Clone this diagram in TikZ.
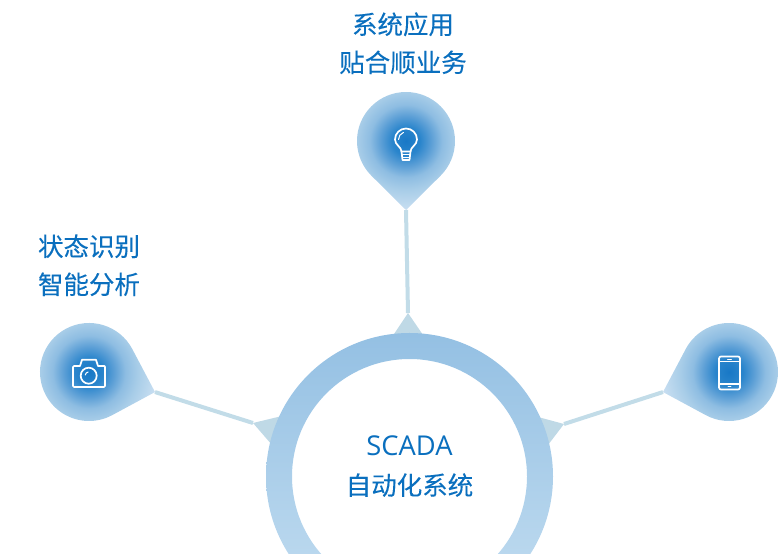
\documentclass[tikz,border=0pt]{standalone}
\usepackage{fontspec}
\setmainfont{Open Sans}
\newfontfamily\cjk[FakeBold=0.12]{Noto Sans CJK SC}
\usepackage{xcolor}
\usepackage{tikz}
\usetikzlibrary{calc, positioning}
\definecolor{labelblue}{HTML}{0A6FBE}
\definecolor{linkblue}{HTML}{C2DCE8}
\definecolor{hornblue}{HTML}{BFD9E6}
\definecolor{hubtop}{HTML}{94C0E3}
\definecolor{hubbottom}{HTML}{C4DEF1}
\definecolor{glowa}{HTML}{1878C6}
\definecolor{glowb}{HTML}{2A85CC}
\definecolor{glowc}{HTML}{5C9FD6}
\definecolor{glowf}{HTML}{8EBDE2}
\definecolor{glowd}{HTML}{A8CDE8}
\definecolor{glowe}{HTML}{CBE0F2}
\pgfdeclareradialshading{pinglow}{\pgfpoint{0bp}{0bp}}{%
  color(0bp)=(glowa);
  color(5bp)=(glowb);
  color(9bp)=(glowc);
  color(13bp)=(glowf);
  color(17.5bp)=(glowd);
  color(25bp)=(glowe);
  color(50bp)=(glowe)}
\tikzset{
  label text/.style={text=labelblue, align=center, font=\cjk\fontsize{25.5}{38}\selectfont},
  link line/.style={draw=linkblue, line width=4pt},
  horn/.style={fill=hornblue},
  icon line/.style={draw=white, line width=1.7pt, line join=round, line cap=round}
}

\begin{document}
\begin{tikzpicture}[x=1pt, y=1pt]
      \useasboundingbox (0,0) rectangle (779,554);
      \clip (0,0) rectangle (779,554);

      %pins
      \foreach \name/\cx/\cy/\dir in {Top/406/413/-90, Left/89/182/-16.9, Right/729/182/196.9}{
        \coordinate (pin\name) at (\cx,\cy);
        \coordinate (tip\name) at ($(pin\name)+(\dir:69pt)$);
        \begin{scope}
          \clip (tip\name) -- ($(pin\name)+(\dir+44.8:49pt)$)
            arc[start angle=\dir+44.8, end angle=\dir+315.2, radius=49pt] -- cycle;
          \shade[shading=pinglow] (pin\name) circle (70pt);
        \end{scope}
      }

      %hub
      \coordinate (hub) at (409.5,77.5);
      \coordinate (hornTop) at (408,241);
      \coordinate (hornLeft) at (253,131);
      \coordinate (hornRight) at (564,130);
      \fill[horn] (hornTop) -- (392,217) -- (424.4,217) -- cycle;
      \fill[horn] (hornLeft) -- (282,138) -- (272,109) -- cycle;
      \fill[horn] (hornRight) -- (538,137) -- (548,109) -- cycle;
      \shade[top color=hubtop, bottom color=hubbottom, even odd rule]
        (hub) circle (143.5pt) (hub) circle (117.5pt);

      % edges %
      \draw[link line] (tipTop) -- (hornTop);
      \draw[link line] (tipLeft) -- (hornLeft);
      \draw[link line] (tipRight) -- (hornRight);

      %labels
      \node[label text] (labelTop) at (403,510.7) {系统应用\\贴合顺业务};
      \node[label text] (labelLeft) at (89,288.7) {状态识别\\智能分析};
      \node[label text] (labelHub) at (409.5,87.5) {{\rmfamily\fontsize{27.3}{39}\selectfont SCADA}\\[1pt]自动化系统};

      %bulb
      \draw[icon line] (401.5,402.5) .. controls (401.5,407) and (395,409) .. (395,414.5)
        arc[start angle=180, end angle=0, radius=11pt]
        .. controls (417,409) and (410.5,407) .. (410.5,402.5) -- cycle;
      \draw[icon line] (401.5,402.5) -- (402.5,394) -- (409.5,394) -- (410.5,402.5);
      \draw[icon line, line width=1pt] (402,399.5) -- (410,399.5) (402.5,396.7) -- (409.5,396.7);
      \draw[icon line, line width=1pt] (398.5,414.5) arc[start angle=180, end angle=110, radius=7.5pt];

      %camera
      \draw[icon line] (74,188) -- (80,188) -- (82,194.2) -- (96,194.2) -- (98,188) -- (104.5,188)
        -- (105,187) -- (105,168) -- (104,167) -- (74,167) -- (73,168) -- (73,187) -- cycle;
      \draw[icon line] (88.7,178.3) circle (8pt);
      \draw[icon line, line width=1pt] (85.2,179) arc[start angle=170, end angle=100, radius=3.6pt];

      %phone
      \draw[icon line, rounded corners=2pt] (719,164.5) rectangle (740,197.5);
      \draw[icon line, line width=1.2pt] (719,192.3) -- (740,192.3) (719,170) -- (740,170);
      \draw[icon line, line width=0.9pt] (727.5,194.9) -- (731.5,194.9) (728,167.3) -- (731,167.3);
    \end{tikzpicture}
\end{document}
